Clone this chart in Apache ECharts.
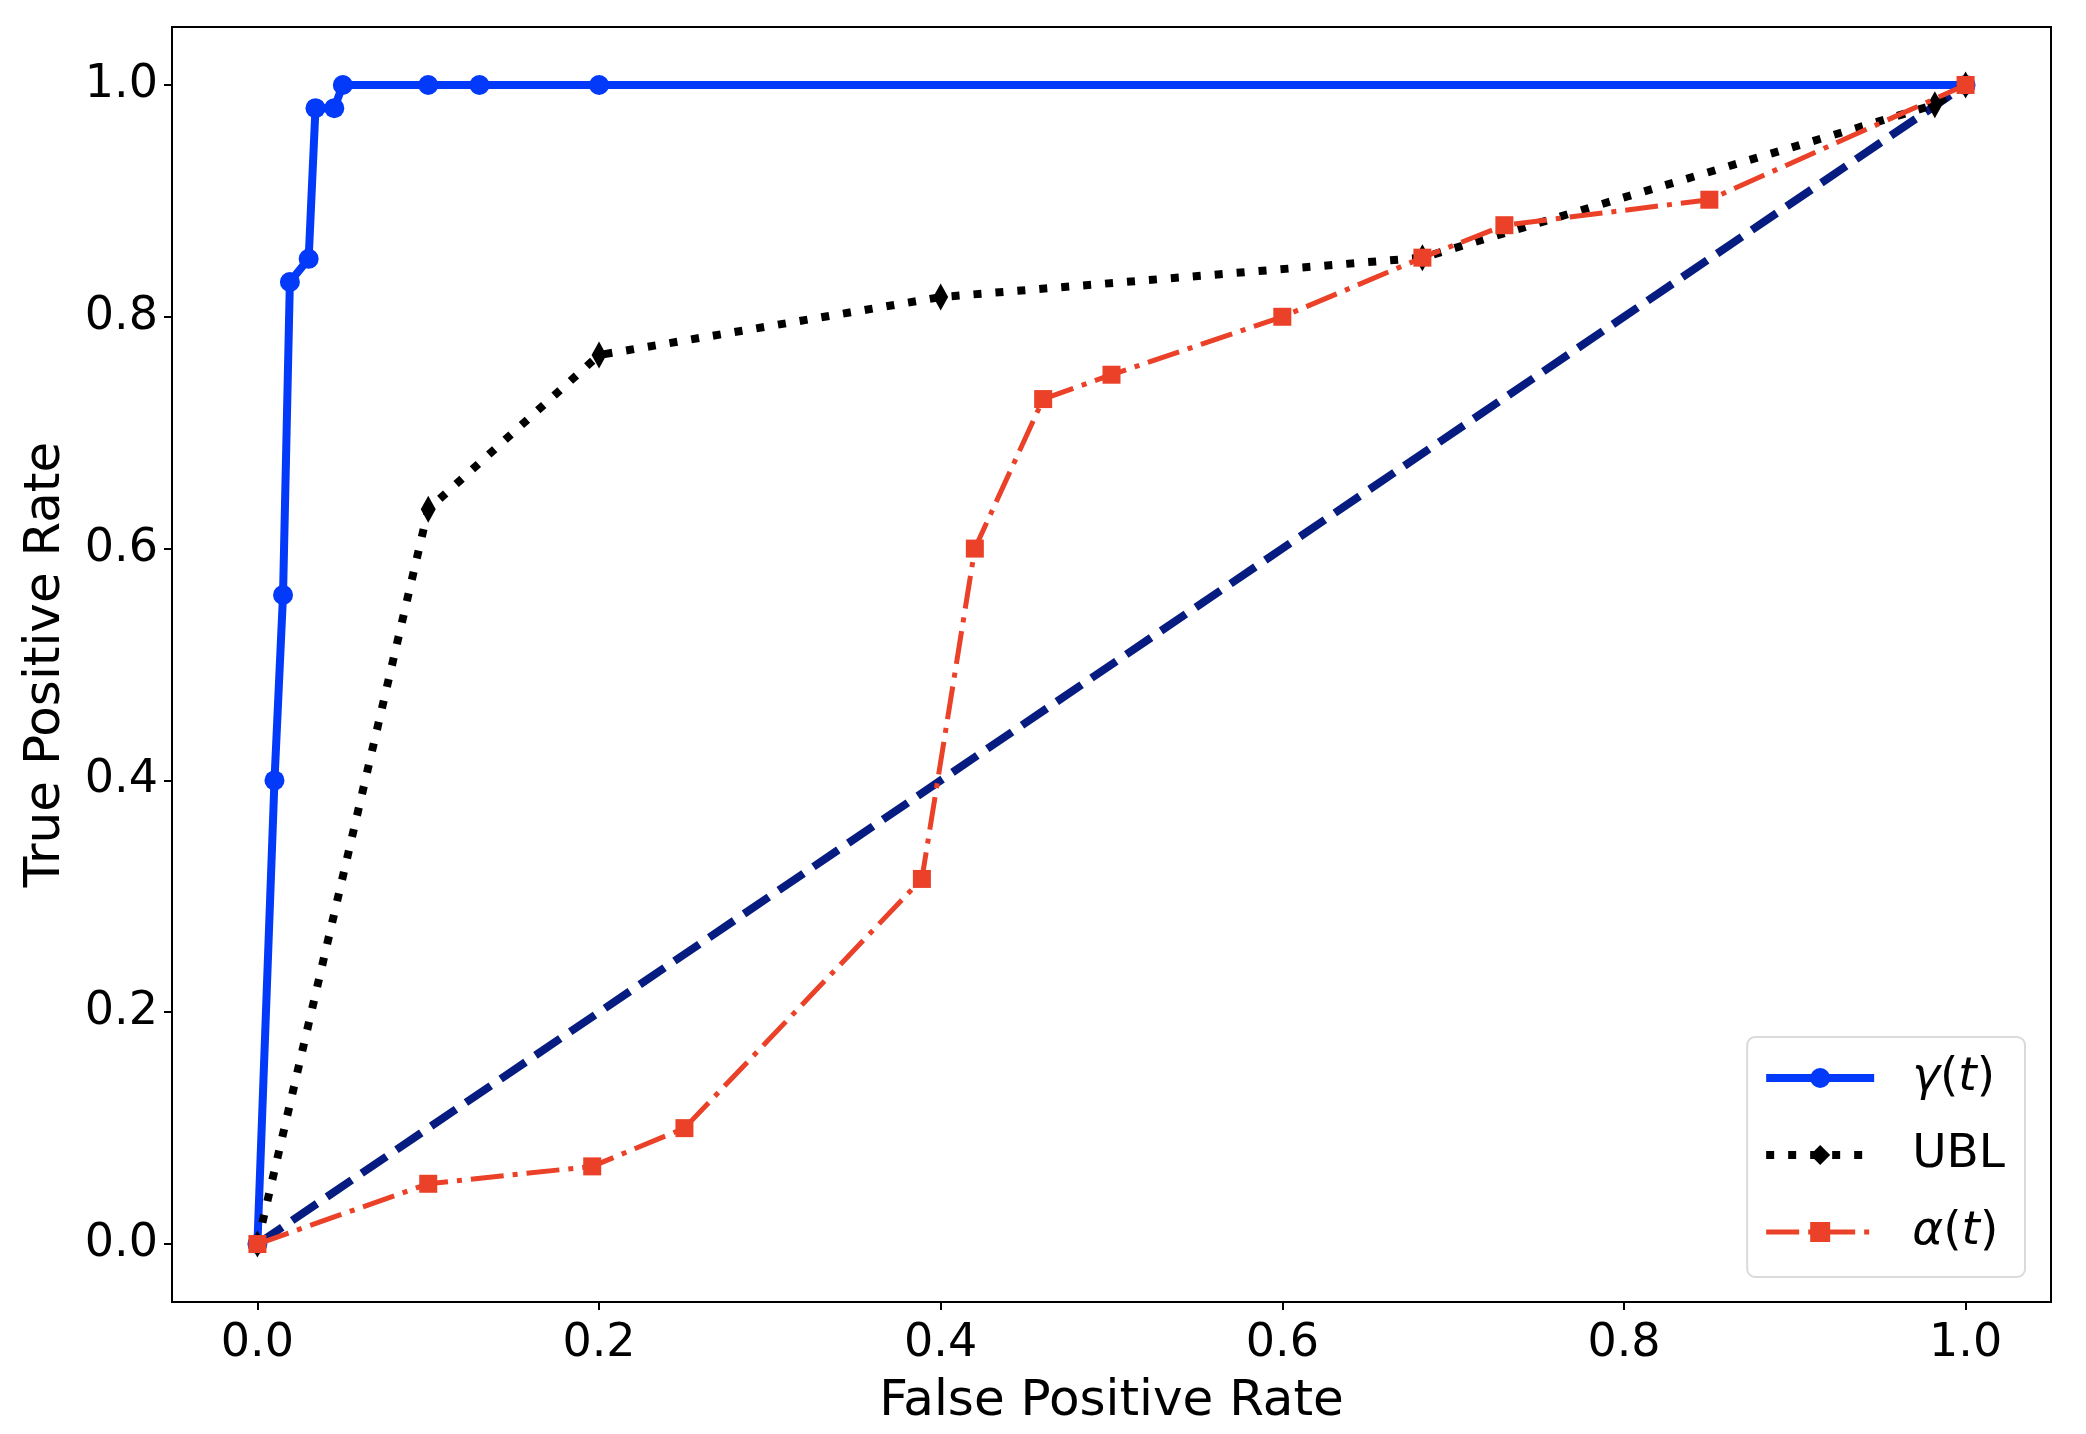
<!DOCTYPE html>
<html>
<head>
<meta charset="utf-8">
<script src="https://cdn.jsdelivr.net/npm/echarts@6/dist/echarts.min.js"></script>
<style>
html, body { margin: 0; padding: 0; background: #fff; }
#roc { width: 2086px; height: 1434px; }
</style>
</head>
<body>
<div id="roc"></div>
<script>
// ROC curves
var gammaFpr = [0, 0.010, 0.015, 0.019, 0.030, 0.034, 0.045, 0.050, 0.10, 0.13, 0.20, 1.0];
var gammaTpr = [0, 0.40, 0.56, 0.83, 0.85, 0.98, 0.98, 1.0, 1.0, 1.0, 1.0, 1.0];

var ublFpr = [0, 0.10, 0.20, 0.40, 0.682, 0.982, 1.0];
var ublTpr = [0, 0.634, 0.767, 0.817, 0.851, 0.983, 1.0];

var alphaFpr = [0, 0.10, 0.196, 0.25, 0.389, 0.42, 0.46, 0.50, 0.60, 0.682, 0.73, 0.85, 1.0];
var alphaTpr = [0, 0.052, 0.067, 0.10, 0.315, 0.60, 0.729, 0.75, 0.80, 0.851, 0.879, 0.901, 1.0];

var chanceFpr = [0, 1];
var chanceTpr = [0, 1];

var ticks = [0, 0.2, 0.4, 0.6, 0.8, 1.0];

var font = 'DejaVu Sans';
var blue = '#0339f8', red = '#ea4128', navy = '#061c80';

var blueLine = { color: blue, width: 8 };
var ublLine = { color: '#000', width: 8, type: [8, 14], cap: 'butt' };
var redLine = { color: red, width: 5, type: [33, 9, 5, 9], cap: 'butt' };

function pairs(xs, ys) {
    var out = [];
    for (var i = 0; i < xs.length; i++) out.push([xs[i], ys[i]]);
    return out;
}

function axisOf(name, gap, margin) {
    return {
        type: 'value',
        min: -0.05,
        max: 1.05,
        name: name,
        nameLocation: 'middle',
        nameGap: gap,
        nameTextStyle: { fontSize: 50, color: '#000', fontFamily: font },
        axisLine: { show: true, onZero: false, lineStyle: { color: '#000', width: 2 } },
        axisTick: { show: true, customValues: ticks, length: 8, lineStyle: { color: '#000', width: 2 } },
        axisLabel: {
            customValues: ticks,
            formatter: function (v) { return v.toFixed(1); },
            margin: margin,
            fontSize: 46, color: '#000', fontFamily: font
        },
        splitLine: { show: false }
    };
}

var rocChart = echarts.init(document.getElementById('roc'));

option = {
    backgroundColor: '#fff',
    animation: false,
    grid: {
        left: 172, right: 35, top: 27, bottom: 132,
        show: true, borderColor: '#000', borderWidth: 2, backgroundColor: 'transparent'
    },
    xAxis: axisOf('False Positive Rate', 75, 19),
    yAxis: axisOf('True Positive Rate', 101, 14),
    legend: {
        data: [
            { name: 'γ(t)', lineStyle: blueLine, itemStyle: { color: blue } },
            { name: 'UBL', lineStyle: ublLine, itemStyle: { color: '#000' } },
            { name: 'α(t)', lineStyle: redLine, itemStyle: { color: red } }
        ],
        orient: 'vertical',
        right: 61,
        bottom: 157,
        selectedMode: false,
        itemWidth: 108,
        itemHeight: 25,
        itemGap: 27,
        padding: [16, 20, 20, 15],
        backgroundColor: 'rgba(255,255,255,0.8)',
        borderColor: '#dadada',
        borderWidth: 2,
        borderRadius: 8,
        textStyle: {
            fontSize: 47, fontFamily: font, color: '#000', lineHeight: 50,
            padding: [0, 0, 0, 33],
            rich: {
                it: { fontSize: 47, fontFamily: font, fontStyle: 'italic', color: '#000', lineHeight: 50 }
            }
        },
        formatter: function (name) {
            if (name === 'UBL') return name;
            return '{it|' + name.charAt(0) + '}({it|t})';
        }
    },
    series: [
        {
            name: 'chance',
            type: 'line',
            data: pairs(chanceFpr, chanceTpr),
            showSymbol: false,
            symbol: 'none',
            lineStyle: { color: navy, width: 8, type: [30, 12], cap: 'butt' },
            z: 1
        },
        {
            name: 'γ(t)',
            type: 'line',
            data: pairs(gammaFpr, gammaTpr),
            symbol: 'circle',
            symbolSize: 20,
            itemStyle: { color: blue },
            lineStyle: blueLine,
            z: 2
        },
        {
            name: 'UBL',
            type: 'line',
            data: pairs(ublFpr, ublTpr),
            symbol: 'diamond',
            symbolSize: [15, 27],
            itemStyle: { color: '#000' },
            lineStyle: ublLine,
            z: 3
        },
        {
            name: 'α(t)',
            type: 'line',
            data: pairs(alphaFpr, alphaTpr),
            symbol: 'rect',
            symbolSize: 18,
            itemStyle: { color: red },
            lineStyle: redLine,
            z: 4
        }
    ]
};
rocChart.setOption(option);
</script>
</body>
</html>
